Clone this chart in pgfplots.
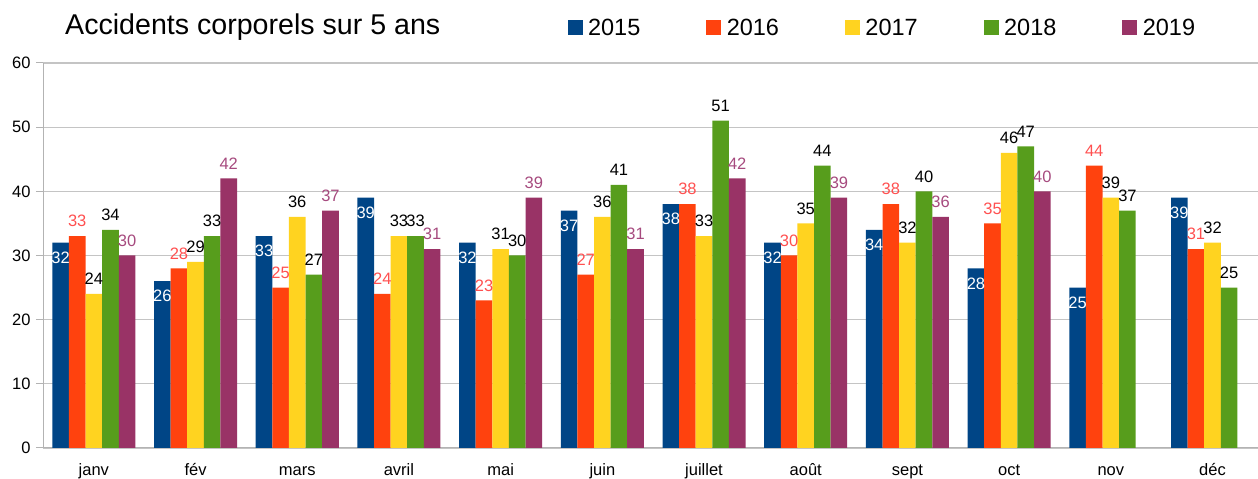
\documentclass[border=0pt]{standalone}
\usepackage{fontspec}
\setmainfont{Liberation Sans}
\usepackage{pgfplots}
\pgfplotsset{compat=1.18}
\definecolor{c2015}{HTML}{004586}
\definecolor{c2016}{HTML}{FF420E}
\definecolor{c2017}{HTML}{FFD320}
\definecolor{c2018}{HTML}{579D1C}
\definecolor{c2019}{HTML}{993366}
\definecolor{l2016}{HTML}{FF5050}
\definecolor{l2019}{HTML}{A64A7E}
\definecolor{gridgray}{HTML}{C4C4C4}
\definecolor{axisgray}{HTML}{B3B3B3}
\newcommand{\lblfont}{\fontsize{16.5}{18}\selectfont}
\begin{document}
\begin{tikzpicture}
\begin{axis}[
  at={(43pt,31pt)}, anchor=south west,
  scale only axis, width=1215pt, height=385pt,
  xmin=-0.5, xmax=11.447, ymin=0, ymax=60,
  enlargelimits=false,
  ybar=0pt, bar width=16.6pt,
  /pgf/number format/assume math mode=true,
  axis x line*=bottom, axis y line*=left,
  axis line style={-, draw=axisgray, line width=1pt},
  tick align=outside,
  major tick length=7pt,
  xtick={0,...,11},
  xticklabels={janv,fév,mars,avril,mai,juin,juillet,août,sept,oct,nov,déc},
  major x tick style={draw=none},
  extra x ticks={-0.5,0.5,1.5,2.5,3.5,4.5,5.5,6.5,7.5,8.5,9.5,10.5},
  extra x tick labels={},
  extra x tick style={grid=none, major tick style={draw=axisgray, line width=1pt}},
  x tick label style={font=\lblfont, anchor=base, yshift=-20.7pt},
  ytick={0,10,...,60},
  major y tick style={draw=axisgray, line width=1pt},
  y tick label style={font=\lblfont, xshift=-2pt},
  ymajorgrids, grid style={draw=gridgray, line width=1.2pt},
  legend style={at={(axis description cs:0.43169,1.090)}, anchor=west,
    draw=none, fill=none, inner sep=0pt, nodes={inner sep=0pt},
    font=\fontsize{23.5}{26}\selectfont, legend columns=5,
    /tikz/every odd column/.append style={column sep=5.4pt},
    /tikz/every even column/.append style={column sep=66pt}},
  legend image code/.code={\fill[#1] (0pt,-6.5pt) rectangle (15pt,8.5pt);},
  nodes near coords,
  every node near coord/.append style={font=\lblfont, anchor=center, yshift=15pt, inner sep=0pt},
]
\addplot[fill=c2015, draw=none, every node near coord/.append style={text=white, yshift=-30pt}]
  coordinates {(0,32) (1,26) (2,33) (3,39) (4,32) (5,37) (6,38) (7,32) (8,34) (9,28) (10,25) (11,39)};
\addlegendentry{2015}
\addplot[fill=c2016, draw=none, every node near coord/.append style={text=l2016}]
  coordinates {(0,33) (1,28) (2,25) (3,24) (4,23) (5,27) (6,38) (7,30) (8,38) (9,35) (10,44) (11,31)};
\addlegendentry{2016}
\addplot[fill=c2017, draw=none, every node near coord/.append style={text=black}]
  coordinates {(0,24) (1,29) (2,36) (3,33) (4,31) (5,36) (6,33) (7,35) (8,32) (9,46) (10,39) (11,32)};
\addlegendentry{2017}
\addplot[fill=c2018, draw=none, every node near coord/.append style={text=black}]
  coordinates {(0,34) (1,33) (2,27) (3,33) (4,30) (5,41) (6,51) (7,44) (8,40) (9,47) (10,37) (11,25)};
\addlegendentry{2018}
\addplot[fill=c2019, draw=none, every node near coord/.append style={text=l2019}]
  coordinates {(0,30) (1,42) (2,37) (3,31) (4,39) (5,31) (6,42) (7,39) (8,36) (9,40)};
\addlegendentry{2019}
\end{axis}
\node[anchor=base west, inner sep=0pt, font=\fontsize{28.6}{32}\selectfont] at (65pt,444pt) {Accidents corporels sur 5 ans};
\pgfresetboundingbox
\path (0pt,0pt) rectangle (1258pt,479pt);
\end{tikzpicture}
\end{document}
